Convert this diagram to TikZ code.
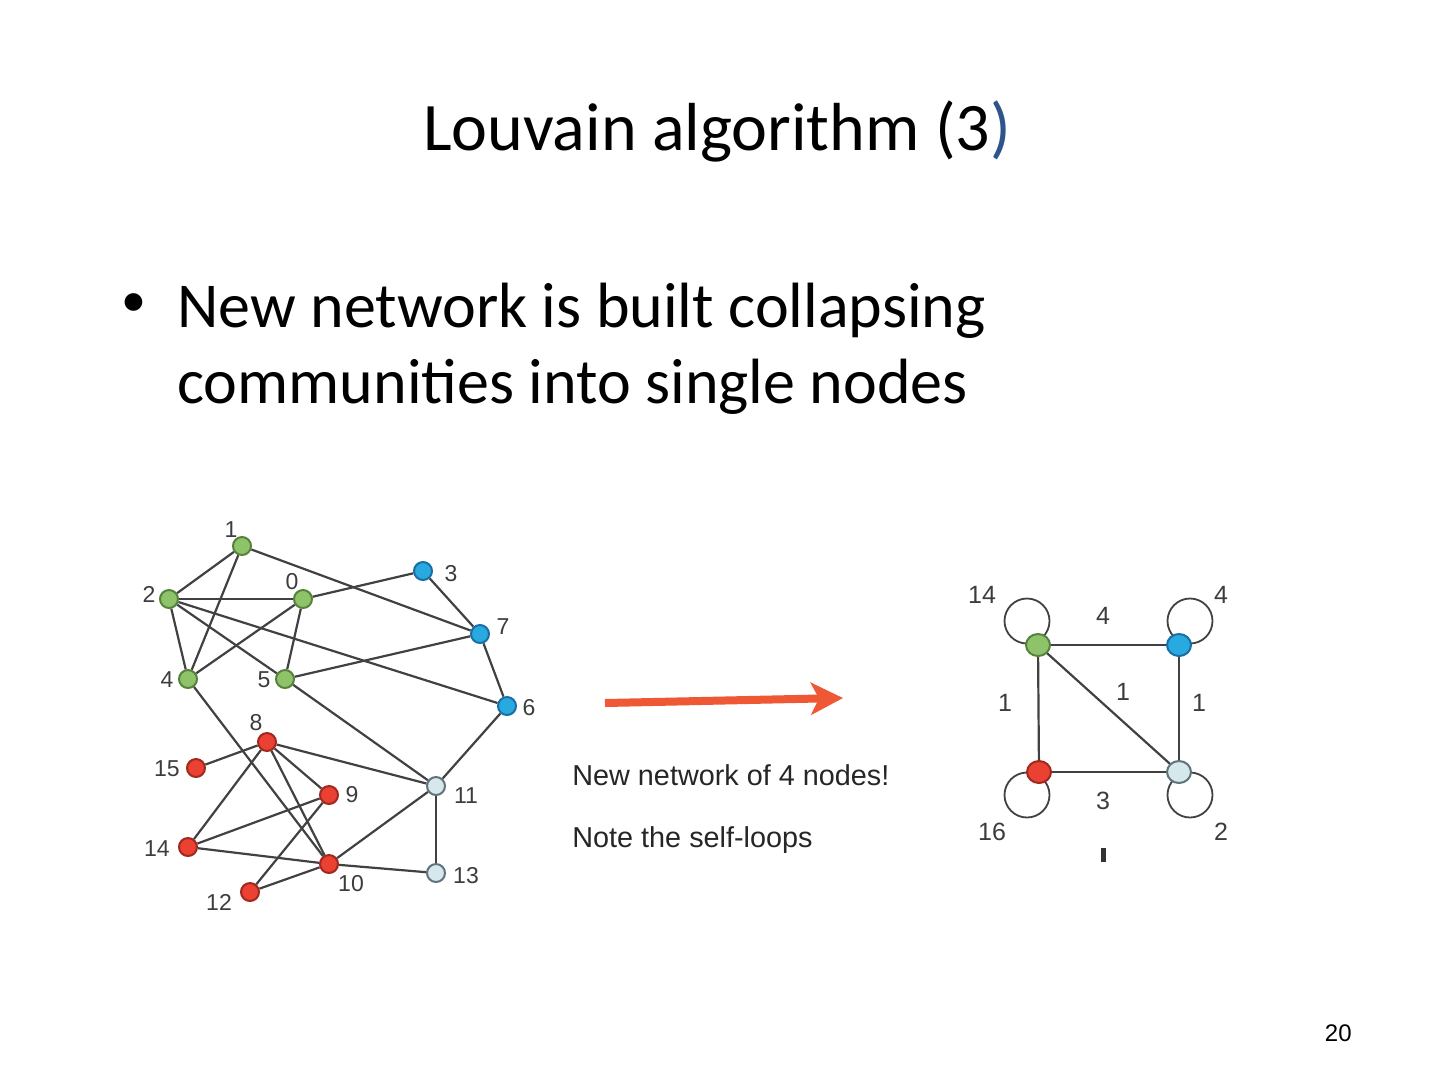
\documentclass[tikz,border=0pt]{standalone}
\usepackage{fontspec}
\setmainfont{Carlito}
\newfontfamily\arialf{Liberation Sans}
\usetikzlibrary{arrows.meta,shapes.geometric}
\definecolor{gfill}{RGB}{143,195,105}
\definecolor{gdark}{RGB}{85,130,60}
\definecolor{bfill}{RGB}{40,170,225}
\definecolor{bdark}{RGB}{25,110,165}
\definecolor{rfill}{RGB}{235,65,50}
\definecolor{rdark}{RGB}{160,40,30}
\definecolor{lfill}{RGB}{215,232,236}
\definecolor{ldark}{RGB}{95,115,125}
\definecolor{edgegray}{RGB}{65,65,65}
\definecolor{labelgray}{RGB}{60,60,60}
\definecolor{arrowred}{RGB}{238,88,52}
\definecolor{titleblue}{RGB}{45,85,140}
\pgfdeclarelayer{bg}
\pgfsetlayers{bg,main}
\begin{document}
\begin{tikzpicture}[x=0.5bp,y=-0.5bp,
  vtx/.style={circle, line width=1bp, minimum size=9bp, inner sep=0pt},
  gn/.style={vtx, draw=gdark, fill=gfill},
  bn/.style={vtx, draw=bdark, fill=bfill},
  rn/.style={vtx, draw=rdark, fill=rfill},
  ln/.style={vtx, draw=ldark, fill=lfill},
  bigvtx/.style={ellipse, line width=1bp, minimum width=12bp, minimum height=11bp, inner sep=0pt},
  lbl/.style={font=\arialf\fontsize{11.5bp}{13bp}\selectfont, text=labelgray, inner sep=0pt},
  wlbl/.style={font=\arialf\fontsize{12.5bp}{14bp}\selectfont, text=labelgray, inner sep=0pt},
  edge/.style={draw=edgegray, line width=1.1bp},
  selfloop/.style={draw=edgegray, line width=0.9bp},
  caption/.style={font=\arialf\fontsize{14.4bp}{17bp}\selectfont, text=black!85, inner sep=0pt, anchor=base west},
  slidetext/.style={inner sep=0pt, font=\fontsize{32bp}{38bp}\selectfont},
]
\useasboundingbox (0,0) rectangle (1440,1080);

% Title
\node[anchor=base, inner sep=0pt, font=\fontsize{34bp}{41bp}\selectfont] (title) at (717,150) {Louvain algorithm (3\textcolor{titleblue}{)}};

% Bullet
\node[anchor=base, inner sep=0pt, font=\fontsize{25bp}{30bp}\selectfont] (bullet) at (134,316) {•};
\node[slidetext, anchor=base west] (line1) at (177,327) {New network is built collapsing};
\node[slidetext, anchor=base west] (line2) at (177,403) {communities into single nodes};

% Left graph nodes
\node[gn] (n1) at (242,546) {};
\node[gn] (n2) at (169,599) {};
\node[gn] (n0) at (303,599) {};
\node[bn] (n3) at (423,571) {};
\node[bn] (n7) at (480,634) {};
\node[gn] (n4) at (188,679) {};
\node[gn] (n5) at (285,679) {};
\node[bn] (n6) at (507,706) {};
\node[rn] (n8) at (267,742) {};
\node[rn] (n15) at (196,768) {};
\node[rn] (n9) at (329,795) {};
\node[ln] (n11) at (436,786) {};
\node[rn] (n14) at (188,847) {};
\node[rn] (n10) at (329,864) {};
\node[ln] (n13) at (436,873) {};
\node[rn] (n12) at (250,892) {};

% Left graph labels
\node[lbl] (l1) at (231,530) {1};
\node[lbl] (l0) at (292,582) {0};
\node[lbl] (l2) at (149,594) {2};
\node[lbl] (l3) at (451,574) {3};
\node[lbl] (l7) at (503,627) {7};
\node[lbl] (l4) at (167,680) {4};
\node[lbl] (l5) at (264,680) {5};
\node[lbl] (l6) at (529,708) {6};
\node[lbl] (l8) at (256,723) {8};
\node[lbl] (l15) at (167,769) {15};
\node[lbl] (l9) at (352,795) {9};
\node[lbl] (l11) at (466,796) {11};
\node[lbl] (l14) at (157,849) {14};
\node[lbl] (l10) at (351,884) {10};
\node[lbl] (l13) at (466,876) {13};
\node[lbl] (l12) at (219,902) {12};

% Left graph edges
\draw[edge] (n1) -- (n2);
\draw[edge] (n1) -- (n4);
\draw[edge] (n1) -- (n7);
\draw[edge] (n2) -- (n0);
\draw[edge] (n2) -- (n4);
\draw[edge] (n2) -- (n5);
\draw[edge] (n2) -- (n6);
\draw[edge] (n0) -- (n4);
\draw[edge] (n0) -- (n5);
\draw[edge] (n0) -- (n3);
\draw[edge] (n3) -- (n7);
\draw[edge] (n7) -- (n5);
\draw[edge] (n7) -- (n6);
\draw[edge] (n4) -- (n10);
\draw[edge] (n5) -- (n11);
\draw[edge] (n6) -- (n11);
\draw[edge] (n8) -- (n15);
\draw[edge] (n8) -- (n14);
\draw[edge] (n8) -- (n11);
\draw[edge] (n8) -- (n9);
\draw[edge] (n8) -- (n10);
\draw[edge] (n9) -- (n14);
\draw[edge] (n9) -- (n12);
\draw[edge] (n14) -- (n10);
\draw[edge] (n10) -- (n12);
\draw[edge] (n10) -- (n11);
\draw[edge] (n10) -- (n13);
\draw[edge] (n11) -- (n13);

% Arrow
\coordinate (as) at (605,703);
\coordinate (ae) at (843,698);
\draw[draw=arrowred, line width=4bp, -{Stealth[length=16bp,width=16bp,inset=4bp]}] (as) -- (ae);

% Captions
\node[caption] (cap1) at (572,785) {New network of 4 nodes!};
\node[caption] (cap2) at (572,847) {Note the self-loops};

% Right graph nodes
\node[bigvtx, draw=gdark, fill=gfill] (G) at (1038,645) {};
\node[bigvtx, draw=bdark, fill=bfill] (B) at (1179,645) {};
\node[bigvtx, draw=rdark, fill=rfill] (R) at (1039,772) {};
\node[bigvtx, draw=ldark, fill=lfill] (L) at (1179,772) {};

% Self-loops
\begin{pgfonlayer}{bg}
\draw[selfloop] ([shift={(-11,-24)}]G.center) circle[radius=11.25bp];
\draw[selfloop] ([shift={(11,-24)}]B.center) circle[radius=11.25bp];
\draw[selfloop] ([shift={(-12,23)}]R.center) circle[radius=11.25bp];
\draw[selfloop] ([shift={(11,23)}]L.center) circle[radius=11.25bp];
\end{pgfonlayer}

% Right graph edges
\draw[edge] (G) -- (B);
\draw[edge] (G) -- (R);
\draw[edge] (G) -- (L);
\draw[edge] (B) -- (L);
\draw[edge] (R) -- (L);

% Right graph labels
\node[wlbl] (w14) at (982,595) {14};
\node[wlbl] (w4a) at (1103,616) {4};
\node[wlbl] (w4b) at (1221,595) {4};
\node[wlbl] (w1a) at (1005,703) {1};
\node[wlbl] (w1b) at (1123,692) {1};
\node[wlbl] (w1c) at (1199,703) {1};
\node[wlbl] (w3) at (1103,801) {3};
\node[wlbl] (w16) at (992,832) {16};
\node[wlbl] (w2) at (1221,832) {2};
\coordinate (barA) at (1103.5,848);
\coordinate (barB) at (1103.5,862);
\draw[draw=black!80, line width=2.5bp] (barA) -- (barB);

% Page number
\node[anchor=base east, inner sep=0pt, font=\arialf\fontsize{12bp}{14bp}\selectfont] (pg) at (1352,1041) {20};
\end{tikzpicture}
\end{document}
